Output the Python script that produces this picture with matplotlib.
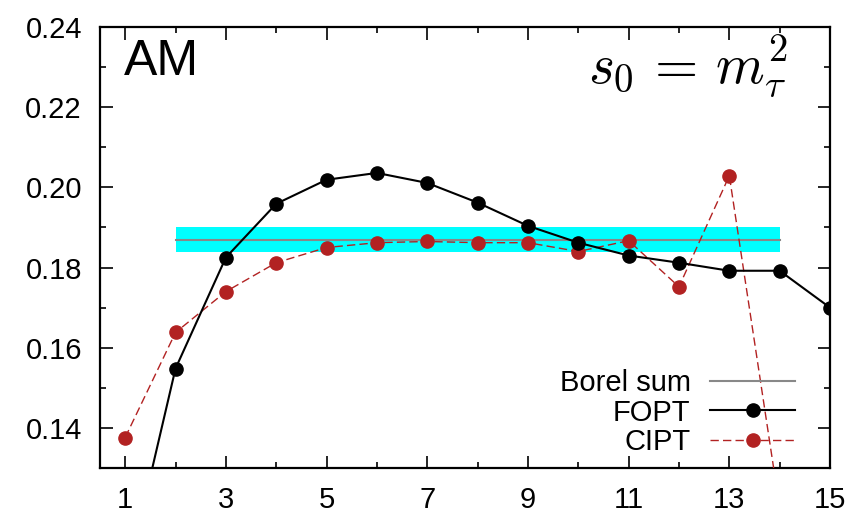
import matplotlib
matplotlib.use("Agg")
import matplotlib.pyplot as plt
from matplotlib.ticker import MultipleLocator, FixedLocator

plt.rcParams['font.family'] = ['Liberation Sans', 'DejaVu Sans']
plt.rcParams['mathtext.fontset'] = 'cm'

orders = [1, 2, 3, 4, 5, 6, 7, 8, 9, 10, 11, 12, 13, 14, 15]
fopt = [0.101, 0.1548, 0.1825, 0.1959, 0.2019, 0.2036, 0.2011, 0.1962, 0.1904,
        0.1862, 0.1830, 0.1812, 0.1792, 0.1792, 0.1700]
cipt_orders = [1, 2, 3, 4, 5, 6, 7, 8, 9, 10, 11, 12, 13, 14]
cipt = [0.1376, 0.1638, 0.1740, 0.1812, 0.1850, 0.1862, 0.1865, 0.1862, 0.1862,
        0.1840, 0.1867, 0.1752, 0.2029, 0.1201]
borel_range = [2, 14]
borel_value = 0.1869
borel_low = 0.1838
borel_high = 0.1900
xticks = [1, 3, 5, 7, 9, 11, 13, 15]
yticks = [0.14, 0.16, 0.18, 0.20, 0.22, 0.24]
ytick_labels = ['0.14', '0.16', '0.18', '0.20', '0.22', '0.24']

fig = plt.figure(figsize=(8.47, 5.09), dpi=100)
ax = fig.add_axes([100/847, 1-468/509, 730/847, 441/509])

ax.fill_between(borel_range, [borel_low]*2, [borel_high]*2, color='#00ffff', lw=0, zorder=1)
ax.plot(borel_range, [borel_value]*2, color='#888888', lw=1.5, zorder=2, label='Borel sum')
ax.plot(orders, fopt, color='black', lw=1.5, marker='o', ms=9.5, zorder=4, label='FOPT', clip_on=True)
ax.plot(cipt_orders, cipt, color='#b22222', lw=1.0, ls=(0, (6, 3)), marker='o', ms=9.5,
        zorder=3, label='CIPT')

ax.set_xlim(0.5, 15)
ax.set_ylim(0.13, 0.24)
ax.xaxis.set_major_locator(FixedLocator(xticks))
ax.xaxis.set_minor_locator(MultipleLocator(1))
ax.set_yticks(yticks)
ax.set_yticklabels(ytick_labels)
ax.yaxis.set_minor_locator(MultipleLocator(0.01))
ax.tick_params(which='both', direction='in', top=True, right=True, width=1.2)
ax.tick_params(which='major', length=9, labelsize=21, pad=13)
ax.tick_params(which='minor', length=4.5)
for s in ax.spines.values():
    s.set_linewidth(1.6)

ax.text(0.033, 0.972, 'AM', transform=ax.transAxes, fontsize=36, va='top', ha='left')
ax.text(0.942, 0.985, r'$s_0 \,=\, m_\tau^2$', transform=ax.transAxes, fontsize=40, va='top', ha='right')

leg = ax.legend(loc='lower right', bbox_to_anchor=(0.952, 0.027), frameon=False, markerfirst=False,
                fontsize=21, handlelength=2.9, handletextpad=0.68, labelspacing=0.05,
                borderpad=0, borderaxespad=0)

fig.savefig('out.png', dpi=100)
